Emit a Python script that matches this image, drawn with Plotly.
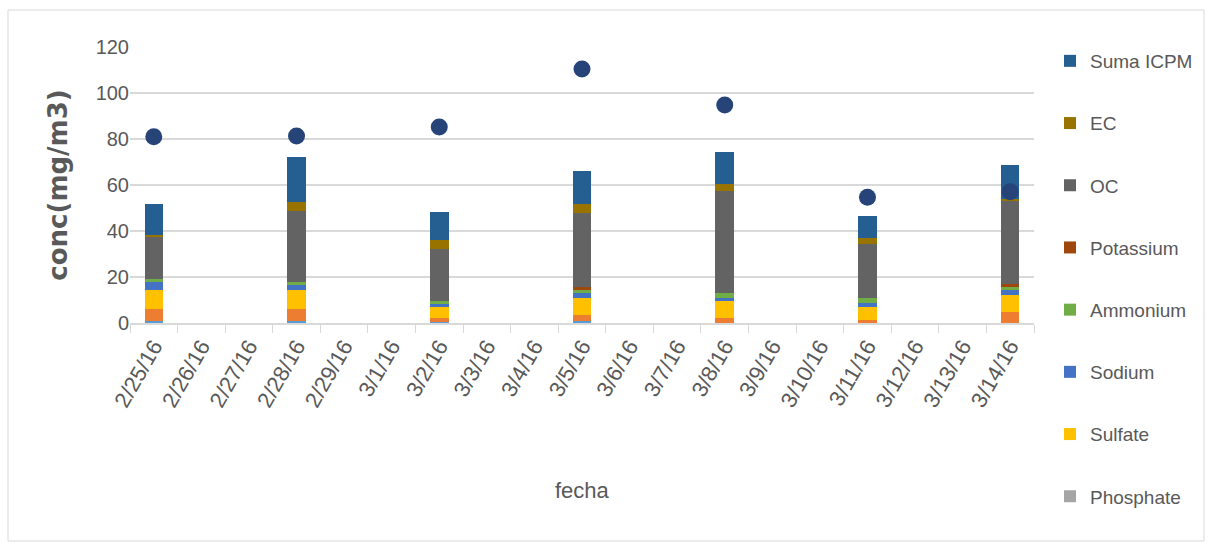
import plotly.graph_objects as go

# Sampling days (category axis, one slot per calendar day)
fechas = ["2/25/16", "2/26/16", "2/27/16", "2/28/16", "2/29/16", "3/1/16", "3/2/16",
          "3/3/16", "3/4/16", "3/5/16", "3/6/16", "3/7/16", "3/8/16", "3/9/16",
          "3/10/16", "3/11/16", "3/12/16", "3/13/16", "3/14/16"]

N = None
# Stacked components, conc (mg/m3); bottom of the stack first
chloride  = [1.0, N, N, 1.0, N, N, 0.3, N, N, 1.0, N, N, 0.0, N, N, 0.0, N, N, 0.0]
nitrate   = [5.0, N, N, 5.0, N, N, 1.7, N, N, 2.5, N, N, 2.3, N, N, 1.3, N, N, 4.7]
phosphate = [0.0, N, N, 0.0, N, N, 0.0, N, N, 0.0, N, N, 0.0, N, N, 0.0, N, N, 0.0]
sulfate   = [8.3, N, N, 8.2, N, N, 5.1, N, N, 7.2, N, N, 7.1, N, N, 5.8, N, N, 7.5]
sodium    = [3.5, N, N, 2.5, N, N, 1.2, N, N, 2.2, N, N, 1.3, N, N, 1.5, N, N, 2.1]
ammonium  = [1.3, N, N, 1.1, N, N, 1.3, N, N, 1.4, N, N, 2.5, N, N, 2.1, N, N, 1.5]
potassium = [0.0, N, N, 0.0, N, N, 0.0, N, N, 1.5, N, N, 0.0, N, N, 0.0, N, N, 1.2]
oc        = [18.2, N, N, 31.0, N, N, 22.6, N, N, 32.2, N, N, 44.3, N, N, 23.8, N, N, 36.0]
ec        = [1.0, N, N, 3.9, N, N, 3.9, N, N, 3.9, N, N, 2.8, N, N, 2.6, N, N, 0.9]
suma_icpm = [13.4, N, N, 19.6, N, N, 12.0, N, N, 14.2, N, N, 14.2, N, N, 9.6, N, N, 14.8]

# Gravimetric mass, drawn as markers
masa = [81.0, N, N, 81.3, N, N, 85.2, N, N, 110.4, N, N, 94.8, N, N, 54.7, N, N, 57.1]

series = [
    ("Chloride", chloride, "#5B9BD5", False),
    ("Nitrate", nitrate, "#ED7D31", False),
    ("Phosphate", phosphate, "#A5A5A5", True),
    ("Sulfate", sulfate, "#FFC000", True),
    ("Sodium", sodium, "#4472C4", True),
    ("Ammonium", ammonium, "#70AD47", True),
    ("Potassium", potassium, "#9E480E", True),
    ("OC", oc, "#636363", True),
    ("EC", ec, "#997300", True),
    ("Suma ICPM", suma_icpm, "#255E91", True),
]

TXT = "#595959"
FONT = "Liberation Sans, Arial, sans-serif"

fig = go.Figure()
n = len(series)
for i, (name, vals, color, show) in enumerate(series):
    fig.add_trace(go.Bar(
        x=fechas, y=vals, name=name, marker=dict(color=color, line=dict(width=0)),
        showlegend=show, legendgroup=name, legendrank=n - i,
    ))

fig.add_trace(go.Scatter(
    x=fechas, y=masa, mode="markers", name="Masa",
    marker=dict(color="#264478", size=17, symbol="circle"),
    showlegend=False,
))

L, R, T, B = 130, 174, 47, 223
W, H = 1208, 546
pw, ph = W - L - R, H - T - B

def px_x(x):
    return (x - L) / pw

def px_y(y):
    return (H - B - y) / ph

fig.update_layout(
    width=W, height=H,
    margin=dict(l=L, r=R, t=T, b=B, autoexpand=False),
    barmode="stack", bargap=0.61,
    paper_bgcolor="white", plot_bgcolor="white",
    font=dict(family=FONT, color=TXT, size=19),
    legend=dict(
        xref="container", yref="container",
        x=1050 / W, xanchor="left", y=1 - 42 / H, yanchor="top",
        traceorder="grouped", tracegroupgap=34.5, maxheight=540,
        font=dict(family=FONT, size=19, color=TXT),
        itemwidth=30, bgcolor="rgba(0,0,0,0)",
    ),
    xaxis=dict(
        type="category", categoryorder="array", categoryarray=fechas,
        tickangle=-60, tickfont=dict(family=FONT, size=22, color=TXT),
        showline=True, linecolor="#D9D9D9", linewidth=1.5,
        ticks="outside", tickson="boundaries", ticklen=8, tickcolor="#D9D9D9",
        showgrid=False, range=[-0.5, len(fechas) - 0.5],
    ),
    yaxis=dict(
        range=[0, 120], dtick=20, showgrid=True, gridcolor="#D9D9D9", gridwidth=1.5,
        zeroline=False, showline=False, ticks="",
        tickfont=dict(family=FONT, size=20, color=TXT),
        title=dict(text="conc(mg/m3)", standoff=20,
                   font=dict(family="DejaVu Sans", size=26, color=TXT, weight="bold")),
    ),
    shapes=[dict(
        type="rect", xref="paper", yref="paper",
        x0=px_x(8), x1=px_x(1204), y0=px_y(541), y1=px_y(10),
        line=dict(color="#D9D9D9", width=1), fillcolor="rgba(0,0,0,0)", layer="below",
    )],
    annotations=[dict(
        text="fecha", xref="paper", yref="paper", x=0.5, y=px_y(490),
        xanchor="center", yanchor="middle", showarrow=False,
        font=dict(family=FONT, size=22, color=TXT),
    )],
)

fig.write_html("out.html")
